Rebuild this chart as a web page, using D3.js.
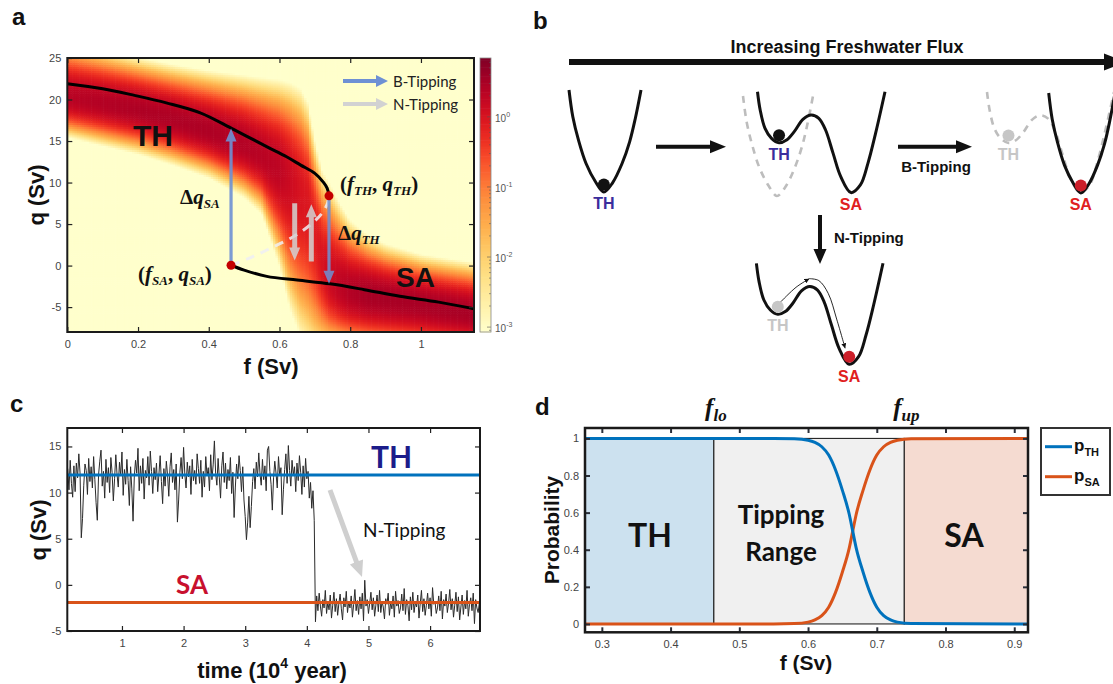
<!DOCTYPE html>
<html>
<head>
<meta charset="utf-8">
<script src="https://cdn.jsdelivr.net/npm/d3@7"></script>
<style>
  body { margin: 0; background: #fff; }
  svg { display: block; }
</style>
</head>
<body>
<svg id="fig" width="1113" height="684"></svg>
<script>
// ---------------- data ----------------
// panel a: branches of the bifurcation diagram (f, q in Sv)
const thF = [0, 0.1, 0.19, 0.28, 0.376, 0.47, 0.565, 0.62, 0.66, 0.7, 0.725, 0.735, 0.74];
const thQ = [21.9, 21.3, 20.5, 19.6, 18.4, 16.4, 14.3, 13.1, 12.1, 11.1, 10.0, 9.3, 8.4];
const unF = [0.463, 0.52, 0.58, 0.64, 0.69, 0.72, 0.735, 0.74];
const unQ = [0.04, 1.0, 2.2, 3.5, 5.0, 6.3, 7.4, 8.4];
const saF = [0.463, 0.5, 0.564, 0.65, 0.743, 0.84, 0.94, 1.05, 1.15];
const saQ = [0.04, -0.55, -1.3, -1.75, -2.2, -2.9, -3.7, -4.4, -5.2];
const foldTH = [0.74, 8.4];
const foldSA = [0.463, 0.04];
const bArrowTop = 16.5;   // end of the up B-tipping arrow
const bArrowBot = -2.2;   // end of the down B-tipping arrow
const nArrows = [{ f: 0.643, q0: 7.5, q1: 0.6 }, { f: 0.69, q0: 0.5, q1: 7.4 }];

// panel a: probability density band (edges and ridge of the coloured band, log10 of its peak)
const bandF     = [0, 0.1, 0.2, 0.3, 0.4, 0.5, 0.55, 0.6, 0.63, 0.66, 0.68, 0.7, 0.72, 0.74, 0.77, 0.8, 0.85, 0.9, 1.0, 1.15];
const bandTop   = [26.5, 25.5, 24.5, 23.6, 22.8, 22.1, 21.7, 21.3, 20.8, 19.9, 18.3, 13.8, 10.3, 8.8, 6.5, 4.6, 3.0, 2.0, 0.8, -0.2];
const bandBot   = [16.0, 15.0, 14.0, 12.7, 11.2, 8.9, 7.0, 1.2, -3.5, -6.5, -7.6, -8.6, -9.0, -9.2, -9.4, -9.6, -9.8, -10.0, -10.2, -10.6];
const bandRidge = [20.3, 19.6, 18.8, 17.7, 16.3, 14.6, 13.3, 11.8, 10.6, 9.0, 7.6, 4.0, 0.5, -1.5, -2.6, -3.2, -3.6, -3.9, -4.6, -5.8];
const bandLevel = [0.35, 0.4, 0.45, 0.45, 0.45, 0.4, 0.35, 0.3, 0.15, 0.0, -0.05, -0.1, 0.0, 0.15, 0.3, 0.4, 0.5, 0.5, 0.5, 0.5];
const cbTicks = [-3, -2, -1, 0];

// panel c: time series q(t), TH part sampled every 0.02 from t = 0.12
const tsTH = [
  12.6, 10.3, 13.5, 11.0, 9.5, 12.9, 10.1, 13.2, 11.6, 14.2,
  12.1, 5.1, 7.2, 10.8, 13.1, 12.4, 9.8, 13.7, 11.2, 12.8,
  10.5, 13.9, 11.4, 8.9, 7.0, 11.9, 13.4, 14.6, 10.7, 12.3,
  9.4, 13.6, 11.1, 12.7, 10.0, 13.8, 12.2, 9.1, 11.5, 14.1,
  12.0, 10.6, 13.3, 11.8, 14.4, 9.7, 12.5, 10.9, 13.6, 11.3,
  8.6, 12.8, 10.4, 6.9, 11.7, 13.5, 12.1, 14.8, 10.2, 12.9,
  11.0, 13.7, 9.3, 12.4, 11.6, 13.9, 10.8, 14.5, 12.3, 9.9,
  12.7, 11.4, 13.2, 10.1, 12.0, 14.0, 11.2, 8.8, 12.6, 10.7,
  13.4, 11.9, 9.6, 12.8, 14.3, 11.1, 12.5, 10.3, 13.1, 6.8,
  9.2, 12.2, 13.8, 11.5, 14.9, 12.0, 10.5, 13.3, 11.7, 12.9,
  9.8, 13.6, 11.3, 12.4, 10.9, 14.2, 12.6, 11.0, 13.5, 9.5,
  12.3, 10.6, 13.9, 11.8, 12.7, 10.2, 14.1, 11.4, 13.0, 15.6,
  12.1, 10.8, 13.7, 11.6, 9.4, 12.9, 14.4, 11.1, 13.2, 10.4,
  12.5, 11.3, 13.8, 9.9, 12.2, 7.3, 10.6, 13.1, 11.5, 14.0,
  12.4, 10.1, 12.8, 9.2, 7.4, 4.9, 6.8, 9.6, 6.2, 8.5,
  11.2, 12.6, 10.4, 13.3, 11.7, 14.3, 12.0, 10.8, 13.6, 11.4,
  12.9, 10.2, 14.6, 15.0, 12.3, 10.9, 8.1, 11.6, 13.4, 12.1,
  10.5, 13.9, 11.8, 12.7, 7.6, 10.3, 12.5, 14.2, 11.0, 15.1,
  12.4, 10.7, 13.5, 11.9, 12.8, 10.1, 13.2, 11.3, 14.0, 12.2,
  9.8, 12.9, 10.6, 13.7, 11.5, 12.3, 9.4, 11.1, 8.3, 10.2
];
const tsTHStart = 0.12, tsTHEnd = 4.10;
// the jump between the two states
const tsJumpT = [4.12, 4.13];
const tsJumpQ = [7.0, 1.5];
// SA part sampled every 0.02 from t = 4.14
const tsSA = [
  -4.0, -1.2, -2.8, -0.9, -2.3, -3.4, -1.6, -2.5, -0.6, -3.1,
  -1.9, -2.7, -1.1, -3.6, -2.2, -0.8, -2.9, -1.5, -3.3, -2.0,
  -1.0, -2.6, -3.8, -1.4, -2.4, -0.7, -3.0, -1.8, -2.5, -1.2,
  -3.5, -2.1, -0.5, -2.8, -1.7, -3.2, -1.3, -2.6, -0.9, -3.9,
  0.5, -2.3, -1.6, -3.1, -2.0, -0.8, -2.7, -1.4, -3.4, -2.2,
  -1.1, -2.9, -0.6, -3.0, -1.8, -2.4, -3.7, -1.5, -2.1, -0.9,
  -3.3, -1.9, -2.6, -1.2, -3.5, -0.7, -2.3, -1.7, -3.1, -2.5,
  -1.0, -2.8, -0.4, -3.2, -1.6, -2.2, -3.9, -1.3, -2.7, -0.8,
  -3.0, -1.9, -2.4, -1.1, -3.6, -2.0, -0.6, -2.9, -1.5, -3.3,
  -2.2, -0.9, -2.6, -1.4, -3.4, -0.3, -2.1, -1.8, -3.1, -2.5,
  -1.2, -2.8, -0.7, -3.7, -1.6, -2.3, -1.0, -3.0, -2.0, -0.5,
  -2.7, -1.5, -3.5, -2.2, -0.8, -2.9, -1.3, -3.8, -2.4, -1.1,
  -3.2, -1.7, -2.6, -0.6, -3.4, -2.1, -1.4, -2.8, -0.9, -4.2,
  -1.6, -2.5, -3.0, -1.9
];
const tsSAStart = 4.14, tsSAEnd = 6.80;
const levelTH = 11.9, levelSA = -1.9;

// panel d: probabilities of the two states
const pF  = [0.2755, 0.55, 0.58, 0.60, 0.61, 0.62, 0.63, 0.64, 0.65, 0.66, 0.665, 0.67, 0.68, 0.69, 0.70, 0.71, 0.72, 0.73, 0.75, 0.92];
const pTH = [1, 1, 0.998, 0.99, 0.978, 0.955, 0.91, 0.83, 0.72, 0.59, 0.5, 0.41, 0.28, 0.17, 0.09, 0.045, 0.022, 0.01, 0.002, 0];
const pSA = [0, 0, 0.002, 0.01, 0.022, 0.045, 0.09, 0.17, 0.28, 0.41, 0.5, 0.59, 0.72, 0.83, 0.91, 0.955, 0.978, 0.99, 0.998, 1];
const fLo = 0.463, fUp = 0.74;

// panel b: potential well outlines in unit boxes
const singleWell = [[0, 0], [0.053, 0.262], [0.132, 0.492], [0.237, 0.721], [0.368, 0.9], [0.484, 1], [0.605, 0.91], [0.737, 0.721], [0.842, 0.508], [0.921, 0.279], [1, 0]];
const doubleWell = [[0, 0], [0.021, 0.18], [0.059, 0.361], [0.11, 0.459], [0.169, 0.502], [0.228, 0.475], [0.288, 0.393], [0.356, 0.272], [0.421, 0.229], [0.481, 0.262], [0.534, 0.377], [0.593, 0.607], [0.653, 0.836], [0.733, 0.993], [0.807, 0.918], [0.866, 0.705], [0.926, 0.41], [1, 0]];
const escapePath = [[[0.194, 0.377], [0.313, 0.236], [0.418, 0.151]], [[0.418, 0.151], [0.493, 0.17], [0.567, 0.295], [0.636, 0.557], [0.701, 0.836]]];

// ---------------- drawing ----------------
const SANS = "'Liberation Sans', Arial, sans-serif";
const CAL = "Lato, 'Open Sans', sans-serif";
const SERIF = "'Liberation Serif', 'DejaVu Serif', serif";
const BLUE = "#0072bd", ORANGE = "#d95319";

const svg = d3.select("#fig");
svg.append("rect").attr("width", 1113).attr("height", 684).attr("fill", "#fff");
const defs = svg.append("defs");

function arrow(g, x1, y1, x2, y2, w, hl, hw, color, op) {
  const L = Math.hypot(x2 - x1, y2 - y1), ux = (x2 - x1) / L, uy = (y2 - y1) / L;
  const nx = -uy, ny = ux, bx = x2 - ux * hl, by = y2 - uy * hl;
  const pts = [
    [x1 + nx * w / 2, y1 + ny * w / 2], [bx + nx * w / 2, by + ny * w / 2], [bx + nx * hw / 2, by + ny * hw / 2],
    [x2, y2], [bx - nx * hw / 2, by - ny * hw / 2], [bx - nx * w / 2, by - ny * w / 2], [x1 - nx * w / 2, y1 - ny * w / 2]
  ];
  g.append("polygon").attr("points", pts.map(p => p.join(",")).join(" ")).attr("fill", color).attr("opacity", op == null ? 1 : op);
}

function frame(g, xs, ys, xt, yt, o) {
  const [xa, xb] = xs.range(), [yb, ya] = ys.range();
  const fmt = d => String(d);
  const style = sel => {
    sel.select(".domain").remove();
    sel.selectAll(".tick line").attr("stroke", o.tickColor || "#222").attr("stroke-width", o.tickWidth || 1.2);
    sel.selectAll(".tick text").attr("fill", "#444").style("font-family", SANS).style("font-size", "11px");
  };
  g.append("g").attr("transform", `translate(0,${yb})`)
    .call(d3.axisBottom(xs).tickValues(xt).tickSize(-5).tickPadding(8).tickFormat(fmt)).call(style);
  g.append("g").attr("transform", `translate(0,${ya})`)
    .call(d3.axisTop(xs).tickValues(xt).tickSize(-5).tickFormat("")).call(style);
  g.append("g").attr("transform", `translate(${xa},0)`)
    .call(d3.axisLeft(ys).tickValues(yt).tickSize(-5).tickPadding(o.ypad || 6).tickFormat(fmt)).call(style);
  g.append("g").attr("transform", `translate(${xb},0)`)
    .call(d3.axisRight(ys).tickValues(yt).tickSize(-5).tickFormat("")).call(style);
  g.append("rect").attr("x", xa).attr("y", ya).attr("width", xb - xa).attr("height", yb - ya)
    .attr("fill", "none").attr("stroke", "#1a1a1a").attr("stroke-width", o.boxWidth || 2);
}

function label(g, txt, x, y, size, opts) {
  opts = opts || {};
  return g.append("text").attr("x", x).attr("y", y).text(txt)
    .attr("text-anchor", opts.anchor || "start")
    .attr("transform", opts.rotate ? `rotate(-90,${x},${y})` : null)
    .style("font-family", opts.font || SANS).style("font-size", size + "px")
    .style("font-weight", opts.weight || "bold").attr("fill", opts.color || "#111");
}

// panel letters
[["a", 12, 25], ["b", 533, 29], ["c", 10, 412], ["d", 535, 415]].forEach(([t, x, y]) => label(svg, t, x, y, 24));

// ===== panel a =====
const ga = svg.append("g");
const ax = d3.scaleLinear().domain([0, 1.15]).range([67.3, 474]);
const ay = d3.scaleLinear().domain([-8, 25]).range([332, 58]);
const cbMin = -3.07, cbMax = 0.84;
const heat = v => d3.interpolateYlOrRd(Math.max(0, Math.min(1, (v - cbMin) / (cbMax - cbMin))));
const sTop = d3.scaleLinear().domain(bandF).range(bandTop);
const sBot = d3.scaleLinear().domain(bandF).range(bandBot);
const sRidge = d3.scaleLinear().domain(bandF).range(bandRidge);
const sLevel = d3.scaleLinear().domain(bandF).range(bandLevel);
const EDGE = -2.3;
function logDensity(f, q) {
  const r = sRidge(f), lv = sLevel(f);
  const d = q >= r ? (q - r) / (sTop(f) - r) : (r - q) / (r - sBot(f));
  return lv - (lv - EDGE) * Math.pow(d, 2.2);
}
defs.append("clipPath").attr("id", "clipA").append("rect")
  .attr("x", ax(0)).attr("y", ay(25)).attr("width", ax(1.15) - ax(0)).attr("height", ay(-8) - ay(25));
const nxCells = 170, nyCells = 132;
const df = 1.15 / nxCells, dq = 33 / nyCells;
const cells = [];
for (let i = 0; i < nxCells; i++) {
  for (let j = 0; j < nyCells; j++) {
    const f0 = i * df, q0 = -8 + j * dq;
    cells.push({ f0, q0, v: logDensity(f0 + df / 2, q0 + dq / 2) });
  }
}
const plotA = ga.append("g").attr("clip-path", "url(#clipA)");
plotA.append("g").selectAll("rect").data(cells).join("rect")
  .attr("x", d => ax(d.f0)).attr("y", d => ay(d.q0 + dq))
  .attr("width", ax(df) - ax(0) + 0.6).attr("height", ay(-8) - ay(-8 + dq) + 0.6)
  .attr("fill", d => heat(d.v));

const lineA = d3.line().x(d => ax(d[0])).y(d => ay(d[1])).curve(d3.curveCatmullRom);
plotA.append("path").attr("d", lineA(d3.zip(unF, unQ))).attr("fill", "none")
  .attr("stroke", "#eeeef4").attr("stroke-opacity", 0.85).attr("stroke-width", 3).attr("stroke-dasharray", "9,7");
plotA.append("path").attr("d", lineA(d3.zip(thF, thQ))).attr("fill", "none").attr("stroke", "#000").attr("stroke-width", 3);
plotA.append("path").attr("d", lineA(d3.zip(saF, saQ))).attr("fill", "none").attr("stroke", "#000").attr("stroke-width", 3);

// B-tipping arrows
arrow(ga, ax(foldSA[0]), ay(foldSA[1]), ax(foldSA[0]), ay(bArrowTop), 3.2, 13, 11, "#6e90d4", 0.9);
arrow(ga, ax(foldTH[0]), ay(foldTH[1]), ax(foldTH[0]), ay(bArrowBot), 3.2, 13, 11, "#6e90d4", 0.85);
// N-tipping arrows
nArrows.forEach(a => arrow(ga, ax(a.f), ay(a.q0), ax(a.f), ay(a.q1), 5, 13, 11, "#d2d2d2", 0.85));
// fold points
[foldTH, foldSA].forEach(p => ga.append("circle").attr("cx", ax(p[0])).attr("cy", ay(p[1])).attr("r", 4.5).attr("fill", "#c40000"));

frame(ga, ax, ay, [0, 0.2, 0.4, 0.6, 0.8, 1], [-5, 0, 5, 10, 15, 20, 25], { boxWidth: 2 });

// legend
arrow(ga, 343, 81, 388, 81, 4, 12, 12, "#6e90d4", 1);
arrow(ga, 343, 104, 388, 104, 4, 12, 12, "#d2d2d2", 1);
label(ga, "B-Tipping", 393, 86.5, 15, { font: CAL, weight: "normal", color: "#222" });
label(ga, "N-Tipping", 393, 109.5, 15, { font: CAL, weight: "normal", color: "#222" });

label(ga, "TH", 133, 145.7, 30);
label(ga, "SA", 396, 287, 28);

function mathText(g, x, y, parts, size, sub) {
  const t = g.append("text").attr("x", x).attr("y", y)
    .style("font-family", SERIF).style("font-size", size + "px").style("font-weight", "bold").attr("fill", "#111");
  let shift = 0;
  parts.forEach(([s, kind]) => {
    const ts = t.append("tspan").text(s);
    if (kind === "sub") { ts.style("font-size", sub + "px").style("font-style", "italic").attr("dy", 4 - shift); shift = 4; }
    else {
      ts.style("font-style", kind === "it" ? "italic" : "normal").attr("dy", -shift); shift = 0;
    }
  });
  return t;
}
mathText(ga, 340, 191, [["(", "up"], ["f", "it"], ["TH", "sub"], [", ", "up"], ["q", "it"], ["TH", "sub"], [")", "up"]], 21, 13);
mathText(ga, 138, 281, [["(", "up"], ["f", "it"], ["SA", "sub"], [", ", "up"], ["q", "it"], ["SA", "sub"], [")", "up"]], 21, 13);
mathText(ga, 180, 204, [["Δ", "up"], ["q", "it"], ["SA", "sub"]], 21, 13);
mathText(ga, 338, 240, [["Δ", "up"], ["q", "it"], ["TH", "sub"]], 21, 13);

label(ga, "f (Sv)", 271, 374, 22, { anchor: "middle" });
label(ga, "q (Sv)", 44, 195, 22, { anchor: "middle", rotate: true });

// colorbar
const cbY = d3.scaleLinear().domain([cbMin, cbMax]).range([332, 58]);
const cbSteps = d3.range(0, 120);
ga.append("g").selectAll("rect").data(cbSteps).join("rect")
  .attr("x", 480).attr("width", 11)
  .attr("y", i => cbY(cbMin + (i + 1) * (cbMax - cbMin) / 120))
  .attr("height", (332 - 58) / 120 + 0.6)
  .attr("fill", i => heat(cbMin + (i + 0.5) * (cbMax - cbMin) / 120));
const minor = [];
for (let e = -4; e <= 0; e++) for (let m = 1; m <= 9; m++) {
  const v = e + Math.log10(m);
  if (v > cbMin && v < cbMax) minor.push({ v, major: m === 1 });
}
ga.append("g").selectAll("line").data(minor).join("line")
  .attr("x1", d => d.major ? 487 : 489).attr("x2", 491)
  .attr("y1", d => cbY(d.v)).attr("y2", d => cbY(d.v))
  .attr("stroke", "#555").attr("stroke-width", 0.6);
ga.append("rect").attr("x", 480).attr("y", 58).attr("width", 11).attr("height", 274)
  .attr("fill", "none").attr("stroke", "#888").attr("stroke-width", 0.8);
cbTicks.forEach(k => {
  const t = ga.append("text").attr("x", 495).attr("y", cbY(k) + 5)
    .style("font-family", SANS).style("font-size", "10px").attr("fill", "#555");
  t.append("tspan").text("10");
  t.append("tspan").text(String(k)).attr("dy", -5).style("font-size", "7px");
});

// ===== panel b =====
const gb = svg.append("g");
const wellBoxes = [
  { shape: singleWell, x0: 569, x1: 641, y0: 90, y1: 192, dashed: false },
  { shape: singleWell, x0: 743, x1: 813, y0: 96, y1: 196, dashed: true },
  { shape: doubleWell, x0: 757.5, x1: 885, y0: 91.7, y1: 193.3, dashed: false },
  { shape: doubleWell, x0: 987, x1: 1114, y0: 92, y1: 193.5, dashed: true },
  { shape: singleWell, x0: 1048.7, x1: 1115, y0: 93, y1: 193, dashed: false },
  { shape: doubleWell, x0: 756.4, x1: 883, y0: 263.3, y1: 365, dashed: false }
];
wellBoxes.forEach(w => {
  w.sx = d3.scaleLinear().domain([0, 1]).range([w.x0, w.x1]);
  w.sy = d3.scaleLinear().domain([0, 1]).range([w.y0, w.y1]);
  w.line = d3.line().x(d => w.sx(d[0])).y(d => w.sy(d[1])).curve(d3.curveCatmullRom.alpha(0.5));
});
wellBoxes.filter(w => w.dashed).forEach(w => gb.append("path").attr("d", w.line(w.shape)).attr("fill", "none")
  .attr("stroke", "#bdbdbd").attr("stroke-width", 2.6).attr("stroke-dasharray", "7,6"));
wellBoxes.filter(w => !w.dashed).forEach(w => gb.append("path").attr("d", w.line(w.shape)).attr("fill", "none")
  .attr("stroke", "#111").attr("stroke-width", 3));

const PURPLE = "#3a2d9c", RED = "#e02020", GREY = "#c6c6c6";
const balls = [
  { w: 0, lx: 0.484, ly: 1, c: "#111" },
  { w: 2, lx: 0.169, ly: 0.502, c: "#111" },
  { w: 3, lx: 0.169, ly: 0.502, c: GREY },
  { w: 4, lx: 0.484, ly: 1, c: "#cc1f2a" },
  { w: 5, lx: 0.169, ly: 0.502, c: GREY },
  { w: 5, lx: 0.733, ly: 0.993, c: "#cc1f2a" }
];
balls.forEach(b => {
  const w = wellBoxes[b.w];
  gb.append("circle").attr("cx", w.sx(b.lx)).attr("cy", w.sy(b.ly) - 7.5).attr("r", 6).attr("fill", b.c);
});
const wellLabels = [
  { w: 0, lx: 0.484, ly: 1, t: "TH", c: PURPLE },
  { w: 2, lx: 0.169, ly: 0.502, t: "TH", c: PURPLE },
  { w: 2, lx: 0.733, ly: 1, t: "SA", c: RED },
  { w: 3, lx: 0.169, ly: 0.502, t: "TH", c: GREY },
  { w: 4, lx: 0.484, ly: 1, t: "SA", c: RED },
  { w: 5, lx: 0.169, ly: 0.502, t: "TH", c: GREY },
  { w: 5, lx: 0.733, ly: 1, t: "SA", c: RED }
];
wellLabels.forEach(l => {
  const w = wellBoxes[l.w];
  label(gb, l.t, w.sx(l.lx), w.sy(l.ly) + 17, 16, { anchor: "middle", color: l.c });
});
// escape path in the N-tipping well
defs.append("marker").attr("id", "tiny").attr("viewBox", "0 0 6 6").attr("refX", 6).attr("refY", 3)
  .attr("markerWidth", 5).attr("markerHeight", 5).attr("markerUnits", "userSpaceOnUse").attr("orient", "auto")
  .append("path").attr("d", "M0,0L6,3L0,6z").attr("fill", "#111");
const w5 = wellBoxes[5];
escapePath.forEach(seg => gb.append("path").attr("d", w5.line(seg)).attr("fill", "none")
  .attr("stroke", "#111").attr("stroke-width", 0.9).attr("marker-end", "url(#tiny)"));

arrow(gb, 569, 62, 1126, 62, 6, 22, 17, "#111", 1);
label(gb, "Increasing Freshwater Flux", 847, 53, 18, { anchor: "middle" });
arrow(gb, 656, 146.7, 726, 146.7, 4, 16, 13, "#111", 1);
arrow(gb, 898, 146.7, 972, 146.7, 4, 16, 13, "#111", 1);
label(gb, "B-Tipping", 936, 172, 15, { anchor: "middle" });
arrow(gb, 820, 215, 820, 264, 4, 15, 13, "#111", 1);
label(gb, "N-Tipping", 834, 243, 15);

// ===== panel c =====
const gc = svg.append("g");
const cx = d3.scaleLinear().domain([0.113, 6.81]).range([67.3, 480]);
const cy = d3.scaleLinear().domain([-5, 17]).range([631, 428]);
defs.append("clipPath").attr("id", "clipC").append("rect")
  .attr("x", 67.3).attr("y", 428).attr("width", 480 - 67.3).attr("height", 203);
const idxTH = d3.scaleLinear().domain([0, tsTH.length - 1]).range([tsTHStart, tsTHEnd]);
const idxSA = d3.scaleLinear().domain([0, tsSA.length - 1]).range([tsSAStart, tsSAEnd]);
const series = tsTH.map((q, i) => [idxTH(i), q])
  .concat(d3.zip(tsJumpT, tsJumpQ))
  .concat(tsSA.map((q, i) => [idxSA(i), q]));
const lineC = d3.line().x(d => cx(d[0])).y(d => cy(d[1]));
const plotC = gc.append("g").attr("clip-path", "url(#clipC)");
plotC.append("path").attr("d", lineC(series)).attr("fill", "none").attr("stroke", "#2a2a2a").attr("stroke-width", 1);
plotC.append("line").attr("x1", cx(0.113)).attr("x2", cx(6.81)).attr("y1", cy(levelTH)).attr("y2", cy(levelTH))
  .attr("stroke", BLUE).attr("stroke-width", 3);
plotC.append("line").attr("x1", cx(0.113)).attr("x2", cx(6.81)).attr("y1", cy(levelSA)).attr("y2", cy(levelSA))
  .attr("stroke", ORANGE).attr("stroke-width", 3);
frame(gc, cx, cy, [1, 2, 3, 4, 5, 6], [-5, 0, 5, 10, 15], { boxWidth: 2 });
arrow(gc, 330, 490, 362, 577, 5, 16, 14, "#cfcfcf", 1);
label(gc, "N-Tipping", 363, 537, 19, { font: CAL, weight: "normal", color: "#111" });
label(gc, "TH", 371, 468, 30, { font: CAL, color: "#1c1c8a" });
label(gc, "SA", 176, 594, 26, { font: CAL, color: "#c8102e" });
label(gc, "q (Sv)", 46, 530, 22, { anchor: "middle", rotate: true });
const tl = label(gc, "time (10", 272, 678, 22, { anchor: "middle" });
tl.append("tspan").text("4").attr("dy", -10).style("font-size", "14px");
tl.append("tspan").text(" year)").attr("dy", 10);

// ===== panel d =====
const gd = svg.append("g");
const dx = d3.scaleLinear().domain([0.2755, 0.92]).range([585, 1028]);
const dy = d3.scaleLinear().domain([-0.045, 1.056]).range([632.3, 428]);
const regions = [
  { a: 0.2755, b: fLo, fill: "#cce1ef" },
  { a: fLo, b: fUp, fill: "#f0f0f0" },
  { a: fUp, b: 0.92, fill: "#f5dbd1" }
];
gd.append("g").selectAll("rect").data(regions).join("rect")
  .attr("x", d => dx(d.a)).attr("width", d => dx(d.b) - dx(d.a))
  .attr("y", dy(1)).attr("height", dy(0) - dy(1))
  .attr("fill", d => d.fill).attr("stroke", "#111").attr("stroke-width", 1);
const lineD = d3.line().x(d => dx(d[0])).y(d => dy(d[1])).curve(d3.curveMonotoneX);
gd.append("path").attr("d", lineD(d3.zip(pF, pSA))).attr("fill", "none").attr("stroke", ORANGE).attr("stroke-width", 3);
gd.append("path").attr("d", lineD(d3.zip(pF, pTH))).attr("fill", "none").attr("stroke", BLUE).attr("stroke-width", 3);
frame(gd, dx, dy, [0.3, 0.4, 0.5, 0.6, 0.7, 0.8, 0.9], [0, 0.2, 0.4, 0.6, 0.8, 1],
  { boxWidth: 2.5, tickColor: "#2a2f3a", tickWidth: 2, ypad: 6 });
label(gd, "TH", 650, 547, 32, { anchor: "middle", font: CAL });
label(gd, "Tipping", 781, 524, 26, { anchor: "middle", font: CAL });
label(gd, "Range", 781, 561, 26, { anchor: "middle", font: CAL });
label(gd, "SA", 964, 547, 32, { anchor: "middle", font: CAL });
label(gd, "Probability", 559, 530, 21, { anchor: "middle", rotate: true });
label(gd, "f (Sv)", 806, 670, 21, { anchor: "middle" });
[[fLo, "lo"], [fUp, "up"]].forEach(([f, s]) => {
  const t = gd.append("text").attr("x", dx(f) + 2).attr("y", 416).attr("text-anchor", "middle")
    .style("font-family", SERIF).style("font-weight", "bold").style("font-style", "italic").attr("fill", "#111");
  t.append("tspan").text("f").style("font-size", "25px");
  t.append("tspan").text(s).style("font-size", "17px").attr("dy", 5);
});
// legend
gd.append("rect").attr("x", 1041).attr("y", 428).attr("width", 69).attr("height", 67)
  .attr("fill", "#fff").attr("stroke", "#333").attr("stroke-width", 2);
[[BLUE, "TH", 446.7], [ORANGE, "SA", 476.7]].forEach(([c, s, y]) => {
  gd.append("line").attr("x1", 1045).attr("x2", 1072).attr("y1", y).attr("y2", y).attr("stroke", c).attr("stroke-width", 3);
  const t = label(gd, "p", 1074, y + 4, 17);
  t.append("tspan").text(s).style("font-size", "11px").attr("dy", 5);
});
</script>
</body>
</html>
